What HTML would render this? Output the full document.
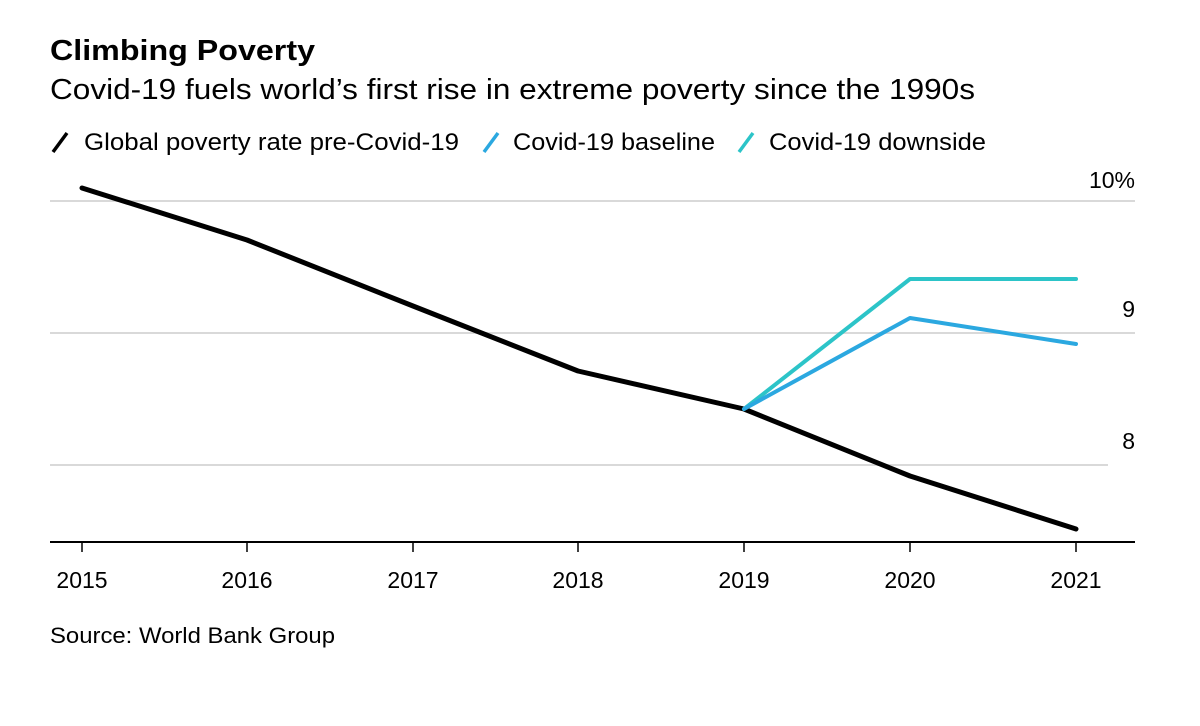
<!DOCTYPE html>
<html><head><meta charset="utf-8"><style>
html,body{margin:0;padding:0;background:#fff;}
svg{display:block;font-family:"Liberation Sans",Arial,sans-serif;}
</style></head><body>
<svg width="1200" height="726" viewBox="0 0 1200 726" xmlns="http://www.w3.org/2000/svg">
<rect width="1200" height="726" fill="#fff"/>
<text x="50" y="60" font-size="29" font-weight="bold" fill="#000" textLength="265" lengthAdjust="spacingAndGlyphs">Climbing Poverty</text>
<text x="50" y="99" font-size="29" fill="#000" textLength="925" lengthAdjust="spacingAndGlyphs">Covid-19 fuels world’s first rise in extreme poverty since the 1990s</text>
<line x1="53" y1="152" x2="67" y2="133" stroke="#000" stroke-width="3.5"/>
<text x="84" y="150" font-size="24" fill="#000" textLength="375" lengthAdjust="spacingAndGlyphs">Global poverty rate pre-Covid-19</text>
<line x1="484" y1="152" x2="498" y2="133" stroke="#2ba8e0" stroke-width="3.5"/>
<text x="513" y="150" font-size="24" fill="#000" textLength="202" lengthAdjust="spacingAndGlyphs">Covid-19 baseline</text>
<line x1="739" y1="152" x2="753" y2="133" stroke="#2cc4c8" stroke-width="3.5"/>
<text x="769" y="150" font-size="24" fill="#000" textLength="217" lengthAdjust="spacingAndGlyphs">Covid-19 downside</text>
<line x1="50" y1="201" x2="1135" y2="201" stroke="#d9d9d9" stroke-width="2"/>
<line x1="50" y1="333" x2="1135" y2="333" stroke="#d9d9d9" stroke-width="2"/>
<line x1="50" y1="465" x2="1108" y2="465" stroke="#d9d9d9" stroke-width="2"/>
<g font-size="23" fill="#000" text-anchor="end">
<text x="1135" y="188">10%</text>
<text x="1135" y="317">9</text>
<text x="1135" y="449">8</text>
</g>
<line x1="50" y1="542" x2="1135" y2="542" stroke="#000" stroke-width="2"/>
<g stroke="#000" stroke-width="1.5">
<line x1="82" y1="542" x2="82" y2="552"/><line x1="247" y1="542" x2="247" y2="552"/>
<line x1="413" y1="542" x2="413" y2="552"/><line x1="578" y1="542" x2="578" y2="552"/>
<line x1="744" y1="542" x2="744" y2="552"/><line x1="910" y1="542" x2="910" y2="552"/>
<line x1="1076" y1="542" x2="1076" y2="552"/>
</g>
<g font-size="23" fill="#000" text-anchor="middle">
<text x="82" y="588">2015</text><text x="247" y="588">2016</text><text x="413" y="588">2017</text>
<text x="578" y="588">2018</text><text x="744" y="588">2019</text><text x="910" y="588">2020</text>
<text x="1076" y="588">2021</text>
</g>
<polyline points="82,188 247,240 413,306 578,371 744,409 910,476 1076,529" fill="none" stroke="#000" stroke-width="5" stroke-linejoin="round" stroke-linecap="round"/>
<polyline points="744,409 910,279 1076,279" fill="none" stroke="#2cc4c8" stroke-width="4" stroke-linejoin="round" stroke-linecap="round"/>
<polyline points="744,409 910,318 1076,344" fill="none" stroke="#2ba8e0" stroke-width="4" stroke-linejoin="round" stroke-linecap="round"/>
<text x="50" y="643" font-size="22" fill="#000" textLength="285" lengthAdjust="spacingAndGlyphs">Source: World Bank Group</text>
</svg>
</body></html>
